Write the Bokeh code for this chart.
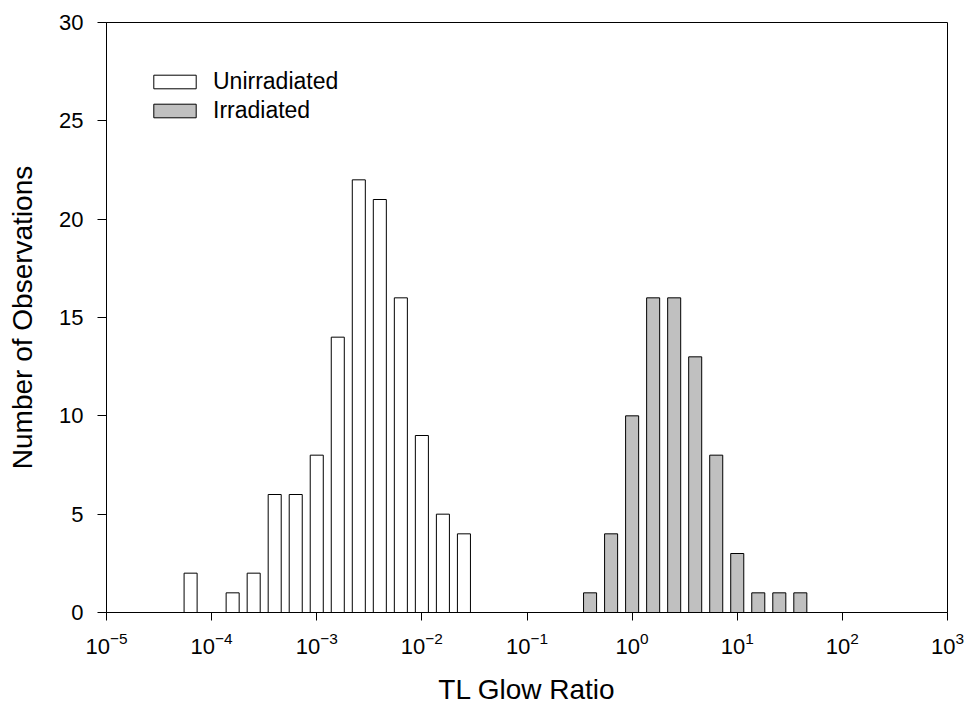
from bokeh.plotting import figure
from bokeh.models import (Range1d, FixedTicker, LogTickFormatter, Legend,
                          LegendItem, ColumnDataSource)
from bokeh.embed import file_html
from bokeh.resources import INLINE

# ---- data (bin centres in log10 units, counts) ----
unirr_log_center = [-4.2, -3.8, -3.6, -3.4, -3.2, -3.0, -2.8, -2.6, -2.4, -2.2, -2.0, -1.8, -1.6]
unirr_counts = [2, 1, 2, 6, 6, 8, 14, 22, 21, 16, 9, 5, 4]

irr_log_center = [-0.4, -0.2, 0.0, 0.2, 0.4, 0.6, 0.8, 1.0, 1.2, 1.4, 1.6]
irr_counts = [1, 4, 10, 16, 16, 13, 8, 3, 1, 1, 1]

x_ticks = [1e-5, 1e-4, 1e-3, 1e-2, 1e-1, 1e0, 1e1, 1e2, 1e3]
y_ticks = [0, 5, 10, 15, 20, 25, 30]

series_labels = ["Unirradiated", "Irradiated"]

# ---- style ----
BAR_HALF = 0.062  # half bar width in decades
FONT = "Liberation Sans"


def make_source(centers, counts):
    return ColumnDataSource(dict(
        left=[10 ** (c - BAR_HALF) for c in centers],
        right=[10 ** (c + BAR_HALF) for c in centers],
        top=counts,
        bottom=[0] * len(counts),
    ))


p = figure(width=965, height=708, x_axis_type="log",
           x_range=Range1d(1e-5, 1e3), y_range=Range1d(0, 30),
           output_backend="svg", toolbar_location=None,
           min_border_left=106, min_border_right=18,
           min_border_top=22, min_border_bottom=96)

p.outline_line_color = "black"
p.outline_line_width = 1
p.grid.visible = False
p.background_fill_color = "white"
p.border_fill_color = "white"

r1 = p.quad(left="left", right="right", top="top", bottom="bottom",
            source=make_source(unirr_log_center, unirr_counts),
            fill_color="white", line_color="black", line_width=1)
r2 = p.quad(left="left", right="right", top="top", bottom="bottom",
            source=make_source(irr_log_center, irr_counts),
            fill_color="#C0C0C0", line_color="black", line_width=1)

# axes
p.xaxis.ticker = FixedTicker(ticks=x_ticks, minor_ticks=[])
p.xaxis.formatter = LogTickFormatter()
p.yaxis.ticker = FixedTicker(ticks=y_ticks, minor_ticks=[])

for ax in (p.xaxis[0], p.yaxis[0]):
    ax.major_tick_in = 0
    ax.minor_tick_in = 0
    ax.minor_tick_out = 0
    ax.major_tick_line_color = "black"
    ax.axis_line_color = "black"
    ax.major_label_text_font = FONT
    ax.major_label_text_font_size = "22px"
    ax.major_label_text_color = "black"
    ax.axis_label_text_font = FONT
    ax.axis_label_text_font_size = "28px"
    ax.axis_label_text_font_style = "normal"
    ax.axis_label_text_color = "black"

p.xaxis.major_tick_out = 8
p.yaxis.major_tick_out = 9
p.xaxis.axis_label = "TL Glow Ratio"
p.yaxis.axis_label = "Number of Observations"
p.xaxis.major_label_standoff = 11
p.xaxis.axis_label_standoff = 17
p.yaxis.major_label_standoff = 14
p.yaxis.axis_label_standoff = 18

legend = Legend(items=[LegendItem(label=series_labels[0], renderers=[r1]),
                       LegendItem(label=series_labels[1], renderers=[r2])],
                location=(42, 488), glyph_width=53, glyph_height=17,
                label_height=17, spacing=2, padding=0, margin=0,
                label_standoff=12, label_text_font=FONT,
                label_text_font_size="23px", label_text_color="black",
                border_line_alpha=0, background_fill_alpha=0)
p.add_layout(legend)

open("out.html", "w").write(file_html(p, INLINE))
